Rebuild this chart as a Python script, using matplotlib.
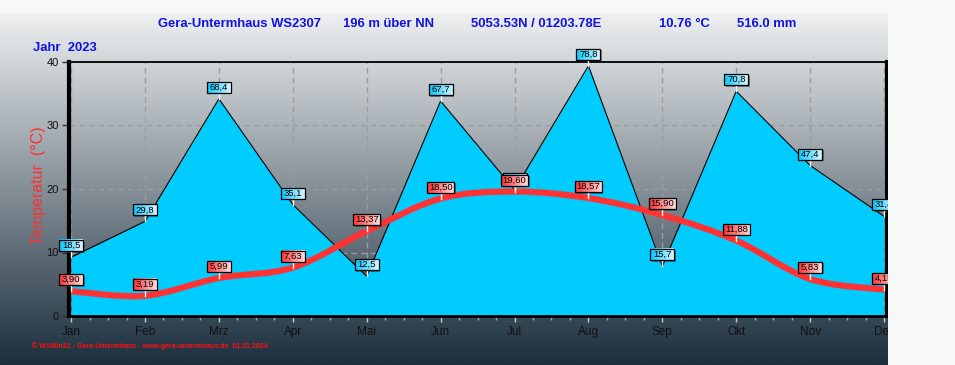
import numpy as np
import matplotlib
matplotlib.use('Agg')
import matplotlib.pyplot as plt
from matplotlib.path import Path
from matplotlib.patches import PathPatch, Rectangle
from matplotlib.colors import to_rgb

# ---------------- data ----------------
months = ['Jan', 'Feb', 'Mrz', 'Apr', 'Mai', 'Jun', 'Jul', 'Aug', 'Sep', 'Okt', 'Nov', 'Dez']
temperature = [3.90, 3.19, 5.99, 7.63, 13.37, 18.50, 19.60, 18.57, 15.90, 11.88, 5.83, 4.15]
precipitation = [18.5, 29.8, 68.4, 35.1, 12.5, 67.7, 39.8, 78.8, 15.7, 70.8, 47.4, 31.4]
y_ticks = [0, 10, 20, 30, 40]
header_texts = ['Gera-Untermhaus WS2307', '196 m über NN', '5053.53N / 01203.78E',
                '10.76 °C', '516.0 mm']
year_text = 'Jahr  2023'
footer_text = '© WsWin32 - Gera-Untermhaus - www.gera-untermhaus.de  01.01.2024'

plt.rcParams['font.family'] = ['Liberation Sans', 'DejaVu Sans']

W, H = 955, 365
fig = plt.figure(figsize=(W / 100, H / 100), dpi=100)
fig.patch.set_facecolor('#f7f9f8')

# background gradient panel
bg = fig.add_axes([0, 0, 888 / W, 352 / H])
bg.set_axis_off()
c_top = np.array(to_rgb('#eef0f1'))
c_bot = np.array(to_rgb('#1b2e3d'))
t = np.linspace(0, 1, 300)[:, None]
grad = (c_top * (1 - t) + c_bot * t)[:, None, :]
bg.imshow(grad, aspect='auto', extent=[0, 1, 0, 1], interpolation='bilinear')
bg.set_zorder(-5)

# main axes
rect = [68.5 / W, (H - 316) / H, (887 - 68.5) / W, (316 - 62) / H]
ax = fig.add_axes(rect)
ax2 = ax.twinx()
ax.set_zorder(2)
ax2.set_zorder(1)
ax.patch.set_visible(False)
ax2.patch.set_visible(False)

x = np.arange(len(months))
xlim = (-0.035, 11.04)

# grid (under the precipitation area)
grid_kw = dict(color='#9c9c9c', ls=(0, (4, 3)), lw=1.0, zorder=1)
for gy in [20, 40, 60]:
    ax2.axhline(gy, **grid_kw)
for gx in x:
    ax2.axvline(gx, **grid_kw)

# precipitation area (secondary scale 0..80 mm)
ax2.fill_between(x, precipitation, 0, color='#00ccff', lw=0, zorder=2)
ax2.plot(x, precipitation, color='black', lw=0.8, zorder=3)
ax2.set_ylim(0, 80)
ax2.set_yticks([])
ax2.tick_params(axis='y', length=0, right=False)
for s in ax2.spines.values():
    s.set_visible(False)

# temperature smooth line (Catmull-Rom Bezier through data points)
pts = np.column_stack([x, temperature]).astype(float)
verts = [pts[0]]
codes = [Path.MOVETO]
n = len(pts)
for i in range(n - 1):
    p0 = pts[i - 1] if i > 0 else pts[i]
    p1 = pts[i]
    p2 = pts[i + 1]
    p3 = pts[i + 2] if i + 2 < n else pts[i + 1]
    c1 = p1 + (p2 - p0) / 6.0
    c2 = p2 - (p3 - p1) / 6.0
    verts += [c1, c2, p2]
    codes += [Path.CURVE4] * 3
ax.add_patch(PathPatch(Path(verts, codes), fill=False, edgecolor='#ff3333', lw=4.5,
                       capstyle='butt', joinstyle='round', zorder=3))

ax.set_xlim(*xlim)
ax.set_ylim(0, 40)
ax2.set_xlim(*xlim)
ax.set_yticks(y_ticks)
ax.set_yticklabels([str(v) for v in y_ticks], fontsize=8, color='#111111')
ax.set_xticks(x)
ax.set_xticklabels(months, fontsize=8.5, color='#111111')
ax.set_xticks(np.arange(0, 11.01, 0.25), minor=True)
ax.tick_params(axis='y', length=5, width=1, color='#333333', pad=2, right=False)
ax.tick_params(axis='x', which='major', length=4, width=1, color='#c8c8c8', pad=3)
ax.tick_params(axis='x', which='minor', length=3, width=1, color='#a8a8a8')
ax.spines['left'].set_linewidth(3)
ax.spines['right'].set_linewidth(3)
ax.spines['bottom'].set_linewidth(2)
ax.spines['top'].set_linewidth(1.3)
for s in ax.spines.values():
    s.set_color('black')

# ---------------- value labels ----------------
inv = ax.transData.inverted()


def add_label(src_ax, xi, yi, text, c_left, c_right, z):
    px, py = src_ax.transData.transform((xi, yi))
    w = 3 * len(text) + 12
    h = 11
    gap = 6
    x0, x1 = px - w / 2, px + w / 2
    y0, y1 = py + gap, py + gap + h
    (dx0, dy0) = inv.transform((x0, y0))
    (dx1, dy1) = inv.transform((x1, y1))
    (sx0, sy0) = inv.transform((x0 + 1.5, y0 - 1.5))
    (sx1, sy1) = inv.transform((x1 + 1.5, y1 - 1.5))
    (lx, ly) = inv.transform((px, py))
    ax.add_patch(Rectangle((sx0, sy0), sx1 - sx0, sy1 - sy0, facecolor='#404040',
                           edgecolor='none', alpha=0.6, zorder=z, clip_on=False))
    cl = np.array(to_rgb(c_left))
    cr = np.array(to_rgb(c_right))
    tt = np.linspace(0, 1, 64)[None, :, None]
    g = cl * (1 - tt) + cr * tt
    im = ax.imshow(g, extent=[dx0, dx1, dy0, dy1], aspect='auto', zorder=z + 0.1,
                   interpolation='bilinear')
    im.set_clip_on(False)
    ax.add_patch(Rectangle((dx0, dy0), dx1 - dx0, dy1 - dy0, facecolor='none',
                           edgecolor='black', lw=0.9, zorder=z + 0.2, clip_on=False))
    ax.plot([lx, lx], [ly, dy0], color='white', lw=1, zorder=z + 0.05, clip_on=False)
    ax.text((dx0 + dx1) / 2, (dy0 + dy1) / 2, text, ha='center', va='center',
            fontsize=6.8, color='black', zorder=z + 0.3, clip_on=False)


z = 10
for xi, v in zip(x, precipitation):
    add_label(ax2, xi, v, f'{v:.1f}'.replace('.', ','), '#00c8ff', '#d8f6ff', z)
    z += 1
for xi, v in zip(x, temperature):
    add_label(ax, xi, v, f'{v:.2f}'.replace('.', ','), '#ff3030', '#ffdede', z)
    z += 1

ax.set_xlim(*xlim)
ax.set_ylim(0, 40)

# ---------------- texts ----------------
blue = '#1010e0'
header_x = [158, 343, 471, 659, 737]
for hx, txt in zip(header_x, header_texts):
    fig.text(hx / W, 1 - 24 / H, txt, ha='left', va='center', fontsize=9.4,
             fontweight='bold', color=blue)
fig.text(33 / W, 1 - 48 / H, year_text, ha='left', va='center', fontsize=9.4,
         fontweight='bold', color=blue)
fig.text(38 / W, 1 - 186 / H, 'Temperatur  (°C)', rotation=90, ha='center',
         va='center', fontsize=11.5, color='#ff3030')
fig.text(32 / W, 1 - 346 / H, footer_text, ha='left', va='center', fontsize=5.0,
         fontweight='bold', color='#ff1010')

# right blank panel (clips labels at the chart edge)
fig.add_artist(Rectangle((888 / W, 0), 1 - 888 / W, 1, transform=fig.transFigure,
                         facecolor='#f7f9f8', edgecolor='none', zorder=100))

fig.savefig('out.png', dpi=100)
